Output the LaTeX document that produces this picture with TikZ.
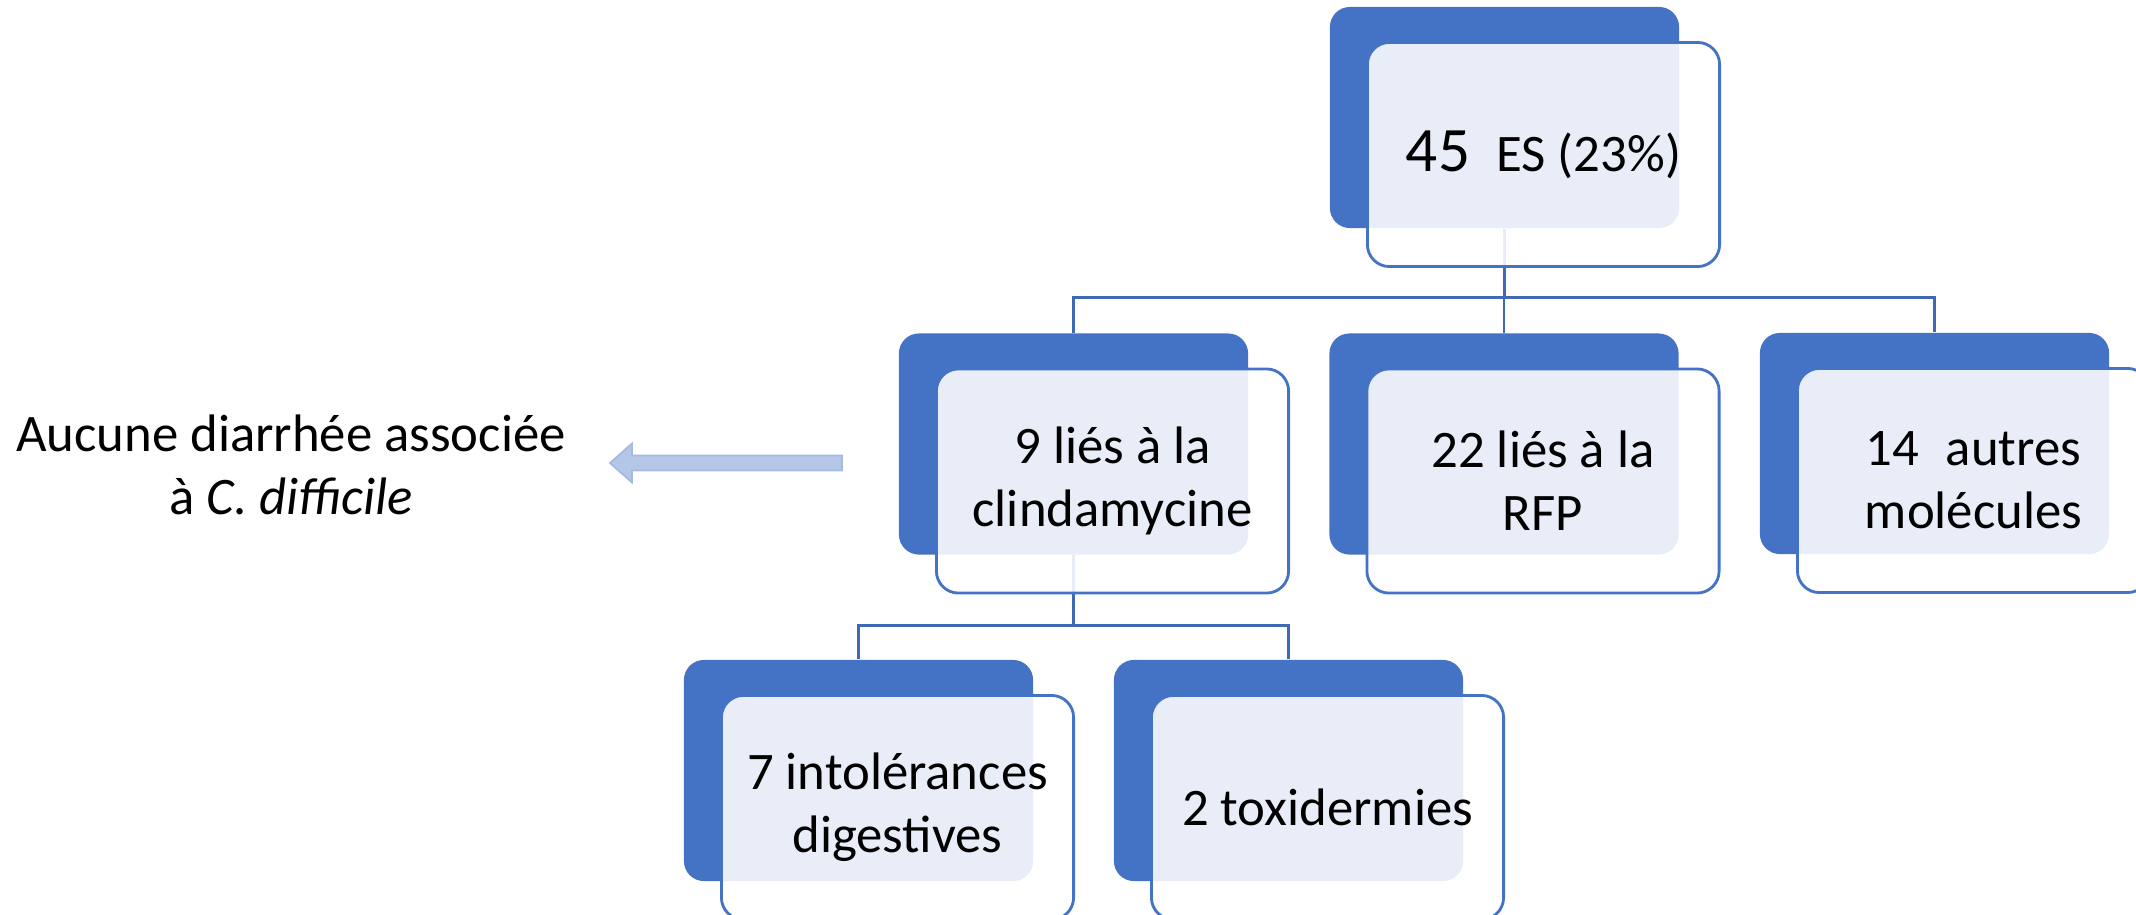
\documentclass[tikz,border=0pt]{standalone}
\usepackage{fontspec}
\setmainfont{Carlito}
\usepackage{tikz}
\usetikzlibrary{positioning,backgrounds}
\usepackage{xcolor}
\definecolor{darkcol}{HTML}{4472C4}
\definecolor{linecol}{HTML}{3F68B5}
\definecolor{arrowcol}{HTML}{B4C7E7}
\newcommand{\esbox}[4]{% #1 name, #2 x, #3 y (centre of the dark box), #4 text
  \node[backbox] (#1d) at (#2,#3) {};
  \node[frontbox] (#1) at (#2+39,#3+37) {#4};
}
\pgfsetlayers{background,main}
\tikzset{
  backbox/.style={fill=darkcol, rounded corners=0.2cm, minimum width=3.49cm, minimum height=2.21cm, inner sep=0pt},
  frontbox/.style={draw=darkcol, line width=0.8pt, fill=white, fill opacity=0.88, text opacity=1,
    rounded corners=0.22cm, minimum width=3.52cm, minimum height=2.24cm, align=center, inner sep=0pt},
  link/.style={draw=linecol, line width=0.8pt},
  blockarrow/.style={fill=arrowcol, draw=arrowcol!85!darkcol, line width=0.5pt}
}
\begin{document}
\begin{tikzpicture}[x=0.01cm, y=-0.01cm, every node/.style={font=\fontsize{15}{18}\selectfont}]
      \useasboundingbox (0,0) rectangle (2136,915);
      \clip (0,0) rectangle (2136,915);
      \esbox{es}{1504.5}{117.5}{{\fontsize{18}{21}\selectfont 45}\enspace ES (23\%)}
      \esbox{clinda}{1073.5}{444}{9 liés à la\\clindamycine}
      \esbox{rfp}{1504}{444}{22 liés à la\\RFP}
      \esbox{autres}{1934.5}{443.5}{14\enspace autres\\molécules}
      \esbox{intol}{858.5}{770.5}{7 intolérances\\digestives}
      \esbox{toxi}{1288.5}{770.5}{2 toxidermies}
      \begin{scope}[on background layer]
        \draw[link] (esd.south) -- ++(0,69) -| (clindad.north);
        \draw[link] (esd.south) -- ++(0,69) -| (rfpd.north);
        \draw[link] (esd.south) -- ++(0,69) -| (autresd.north);
        \draw[link] (clindad.south) -- ++(0,70) -| (intold.north);
        \draw[link] (clindad.south) -- ++(0,70) -| (toxid.north);
      \end{scope}
      \node[align=center] (note) at (291,465) {Aucune diarrhée associée\\à \textit{C. difficile}};
      \coordinate (tail) at (842,463);
      \draw[blockarrow] (tail) ++(0,-7.5) -- ++(-210,0) -- ++(0,-12) -- ++(-22,19.5) -- ++(22,19.5) -- ++(0,-12) -- ++(210,0) -- cycle;
    \end{tikzpicture}
\end{document}
